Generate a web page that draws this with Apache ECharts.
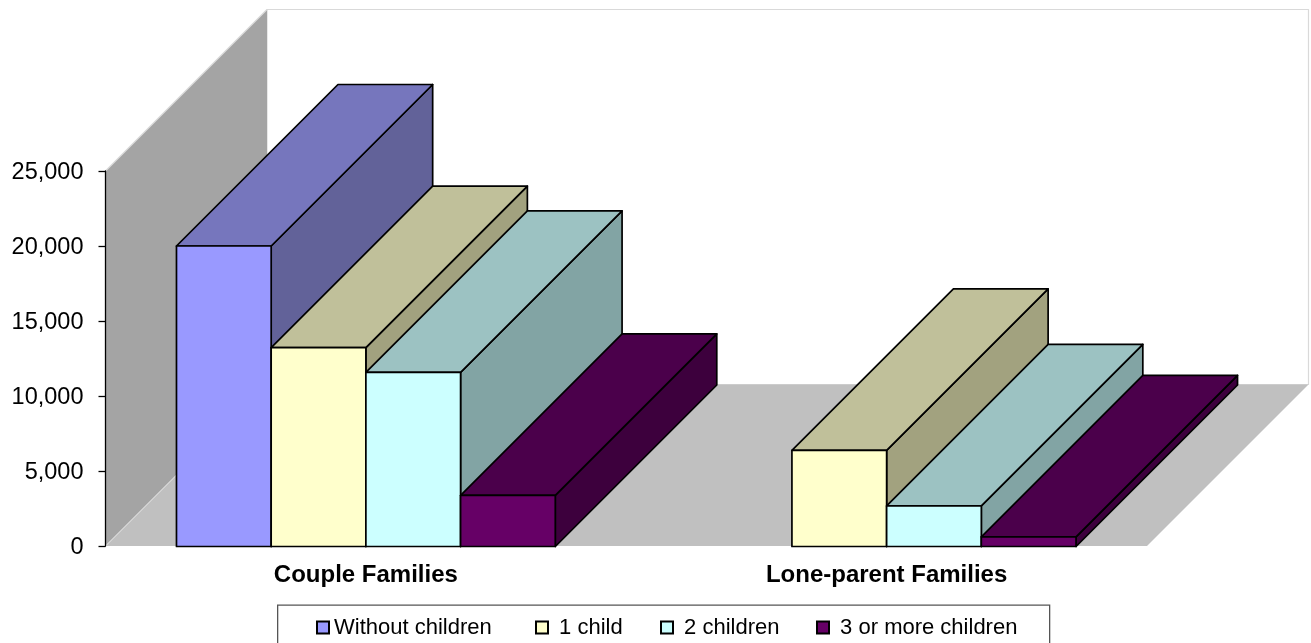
<!DOCTYPE html>
<html><head><meta charset="utf-8">
<style>html,body{margin:0;padding:0;background:#fff}#c{width:1311px;height:643px}</style>
<script src="https://cdn.jsdelivr.net/npm/echarts@6/dist/echarts.min.js"></script>
</head><body><div id="c"></div>
<script>
const categories = ['Couple Families', 'Lone-parent Families'];
const seriesNames = ['Without children', '1 child', '2 children', '3 or more children'];
const withoutChildren = [20000, 0];
const oneChild = [13230, 6370];
const twoChildren = [11570, 2670];
const threeOrMore = [3370, 610];
const yTicks = [0, 5000, 10000, 15000, 20000, 25000];
const frontColors = ['#9999FF', '#FFFFCC', '#CCFFFF', '#660066'];
const topColors = ['#7676BD', '#C0C09A', '#9CC2C2', '#4B004B'];
const sideColors = ['#626299', '#A2A27F', '#82A4A4', '#3D003D'];
const allValues = [withoutChildren, oneChild, twoChildren, threeOrMore];
const DEPTH = 161.5, BAR_FRACTION = 94.7 / 520.75, LINE = 1.7, YMAX = 25000;

const chart = echarts.init(document.getElementById('c'), null, {renderer: 'canvas'});
const poly = (points, fill, stroke, width) => ({
  type: 'polygon', shape: {points},
  style: {fill, stroke: stroke || 'none', lineWidth: width || 0, lineJoin: 'round'}
});

function renderWalls(params, api) {
  const cs = params.coordSys;
  const l = cs.x, r = cs.x + cs.width, b = api.coord([0, 0])[1], t = api.coord([0, YMAX])[1];
  const d = DEPTH;
  return {type: 'group', silent: true, children: [
    poly([[l + d, t - d], [r + d, t - d], [r + d, b - d], [l + d, b - d]], '#FFFFFF', '#D9D9D9', 1.2),
    poly([[l, b], [l + d, b - d], [r + d, b - d], [r, b]], '#C0C0C0'),
    poly([[l, b], [l, t], [l + d, t - d], [l + d, b - d]], '#A4A4A4'),
    {type: 'polyline', shape: {points: [[l, t], [l + d, t - d]]}, style: {fill: 'none', stroke: '#D9D9D9', lineWidth: 1.2}},
    {type: 'polyline', shape: {points: [[l, b], [l + d, b - d]]}, style: {fill: 'none', stroke: '#E6E6E6', lineWidth: 1}}
  ]};
}

function renderBar(si) {
  return function (params, api) {
    const val = api.value(1);
    if (!val) return null;
    const band = api.size([1, 0])[0];
    const w = band * BAR_FRACTION;
    const x0 = api.coord([api.value(0), 0])[0] - 2 * w + si * w;
    const x1 = x0 + w;
    const b = api.coord([0, 0])[1] + 0.5;
    const t = api.coord([0, val])[1];
    const d = DEPTH;
    return {type: 'group', silent: true, children: [
      poly([[x1, t], [x1 + d, t - d], [x1 + d, b - d], [x1, b]], sideColors[si], '#000', LINE),
      poly([[x0, t], [x0 + d, t - d], [x1 + d, t - d], [x1, t]], topColors[si], '#000', LINE),
      poly([[x0, t], [x1, t], [x1, b], [x0, b]], frontColors[si], '#000', LINE)
    ]};
  };
}

const legendLefts = [316, 535, 660, 816];
const legends = seriesNames.map((n, i) => ({
  data: [n], left: legendLefts[i], top: 616.5, orient: 'horizontal', padding: 0,
  icon: 'rect', itemWidth: 12, itemHeight: 12, selectedMode: false,
  itemStyle: {color: frontColors[i], borderColor: '#000', borderWidth: 2},
  formatter: i === 0 ? '{name}' : ' {name}',
  textStyle: {fontFamily: 'Liberation Sans', fontSize: 22, color: '#000'}
}));

chart.setOption({
  animation: false,
  backgroundColor: '#fff',
  grid: {left: 105.5, right: 164, top: 171, bottom: 97, containLabel: false},
  legend: legends,
  xAxis: {
    type: 'category', data: categories, boundaryGap: true,
    axisLine: {show: false}, axisTick: {show: false}, splitLine: {show: false},
    axisLabel: {fontFamily: 'Liberation Sans', fontSize: 24, fontWeight: 'bold', color: '#000', margin: 17}
  },
  yAxis: {
    type: 'value', min: 0, max: YMAX, interval: yTicks[1] - yTicks[0], z: 6,
    splitLine: {show: false},
    axisLine: {show: true, lineStyle: {color: '#000', width: 1.3}},
    axisTick: {show: true, length: 7, lineStyle: {color: '#000', width: 1.3}},
    axisLabel: {color: '#000', margin: 22,
      formatter: v => '{a|' + v.toLocaleString('en-US') + '}',
      rich: {a: {fontFamily: 'Liberation Sans', fontSize: 23.5, color: '#000', padding: [4, 0, 0, 0]}}}
  },
  graphic: [{
    type: 'rect', left: 277, top: 604.5, z: -1, silent: true,
    shape: {width: 772, height: 50},
    style: {fill: '#fff', stroke: '#555', lineWidth: 1.3}
  }],
  series: [
    {type: 'custom', name: 'walls', coordinateSystem: 'cartesian2d', z: 1, silent: true,
     renderItem: renderWalls, data: [[0, 0]], clip: false, tooltip: {show: false}},
    ...seriesNames.map((name, si) => ({
      type: 'custom', name, coordinateSystem: 'cartesian2d', z: 2 + si, clip: false,
      itemStyle: {color: frontColors[si]},
      renderItem: renderBar(si),
      data: categories.map((c, ci) => [ci, allValues[si][ci]])
    }))
  ]
});
</script></body></html>
